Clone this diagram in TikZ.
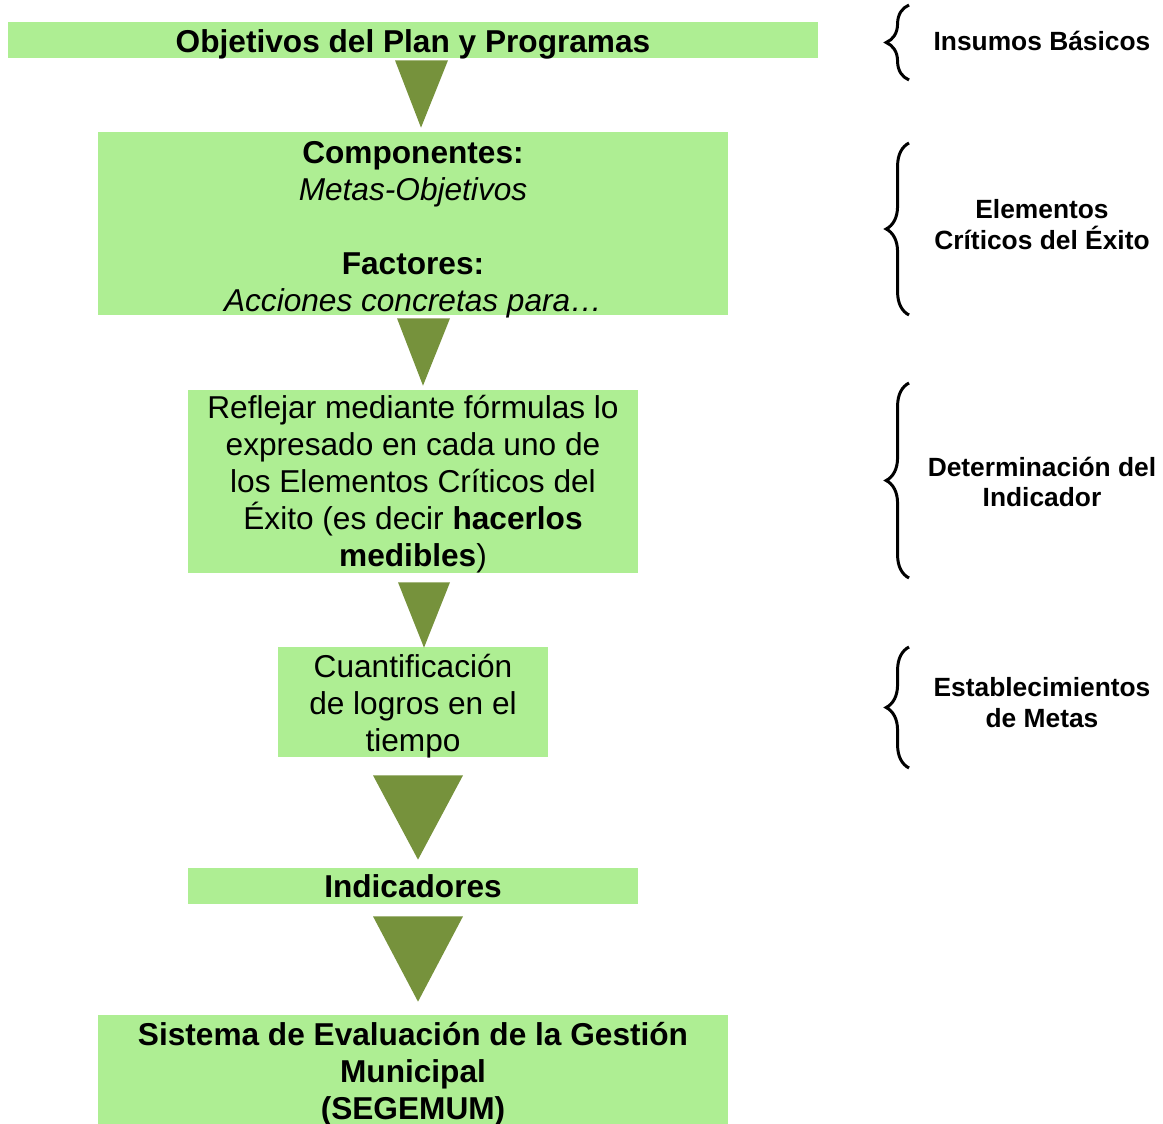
\documentclass[tikz,border=0pt]{standalone}
\usepackage{fontspec}
\setmainfont{Liberation Sans}
\usetikzlibrary{calc, decorations.pathreplacing}
\definecolor{boxgreen}{HTML}{AEEE93}
\definecolor{olivegreen}{HTML}{76923C}
\newcommand{\lift}[1]{\rule{0pt}{#1}}

\begin{document}
\begin{tikzpicture}[
    x=0.02cm, y=-0.02cm,
    box/.style={
        rectangle,
        fill=boxgreen,
        inner xsep=0pt,
        inner ysep=-8pt,
        align=center,
        font=\fontsize{18}{21}\selectfont
    },
    tri/.style={
        fill=olivegreen
    },
    brc/.style={
        decorate,
        decoration={brace, amplitude=13pt},
        line width=1.7pt
    },
    side/.style={
        font=\fontsize{15}{17.6}\selectfont\bfseries,
        align=center
    }
]
\useasboundingbox (0,0) rectangle (1163,1124);

% Boxes
\node[box, minimum width=16.2cm, minimum height=0.72cm] (obj) at (413,40) {\lift{17.6pt}\textbf{Objetivos del Plan y Programas}};
\node[box, minimum width=12.6cm, minimum height=3.66cm] (comp) at (413,223.5) {%
\lift{19.9pt}\textbf{Componentes:}\\
\textit{Metas-Objetivos}\\
~\\
\textbf{Factores:}\\
\textit{Acciones concretas para…}};
\node[box, minimum width=9cm, minimum height=3.66cm] (form) at (413,481.5) {%
\lift{16.5pt}Reflejar mediante fórmulas lo\\
expresado en cada uno de\\
los Elementos Críticos del\\
Éxito (es decir \textbf{hacerlos}\\
\textbf{medibles})};
\node[box, minimum width=5.4cm, minimum height=2.2cm] (cuan) at (413,702) {%
\lift{17.6pt}Cuantificación\\
de logros en el\\
tiempo};
\node[box, minimum width=9cm, minimum height=0.72cm] (ind) at (413,886) {\lift{13.5pt}\textbf{Indicadores}};
\node[box, minimum width=12.6cm, minimum height=2.18cm] (seg) at (413,1069.5) {%
\lift{18.8pt}\textbf{Sistema de Evaluación de la Gestión}\\
\textbf{Municipal}\\
\textbf{(SEGEMUM)}};

% Triangles between boxes
\fill[tri] ($(obj.south)+(-18,2)$) -- ($(obj.south)+(35,2)$) -- ($(comp.north)+(8,-4)$) -- cycle;
\fill[tri] ($(comp.south)+(-16,3)$) -- ($(comp.south)+(37,3)$) -- ($(form.north)+(10,-4)$) -- cycle;
\fill[tri] ($(form.south)+(-15,9)$) -- ($(form.south)+(37,9)$) -- ($(cuan.north)+(11,1)$) -- cycle;
\fill[tri] ($(cuan.south)+(-40,18)$) -- ($(cuan.south)+(50,18)$) -- ($(ind.north)+(5,-8)$) -- cycle;
\fill[tri] ($(ind.south)+(-40,12)$) -- ($(ind.south)+(50,12)$) -- ($(seg.north)+(5,-13)$) -- cycle;

% Side labels
\node[side] (insumos) at (1042,41) {Insumos Básicos};
\node[side] (elementos) at (1042,225) {Elementos\\Críticos del Éxito};
\node[side] (determ) at (1042,482) {Determinación del\\Indicador};
\node[side] (estab) at (1042,703) {Establecimientos\\de Metas};

% Braces
\draw[brc] (909,80) -- (909,5);
\draw[brc] (909,315) -- (909,143);
\draw[brc] (909,578) -- (909,383);
\draw[brc] (909,768) -- (909,647);

\end{tikzpicture}
\end{document}
